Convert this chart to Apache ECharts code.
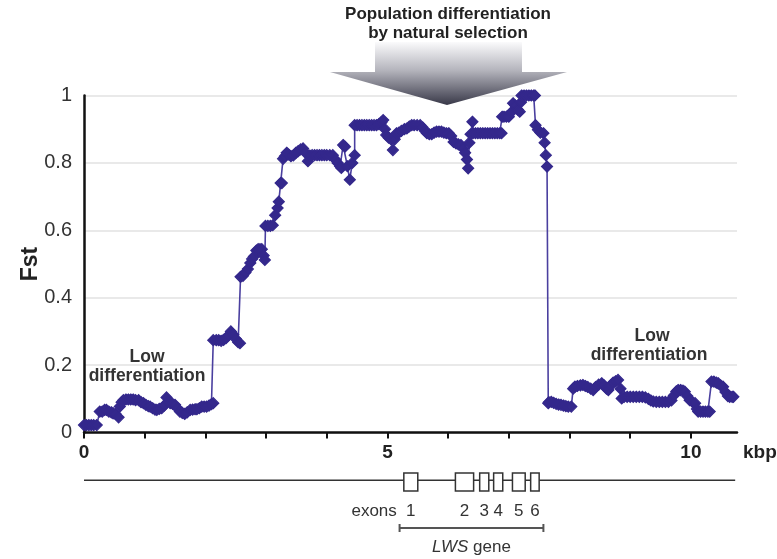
<!DOCTYPE html>
<html>
<head>
<meta charset="utf-8">
<script src="https://cdn.jsdelivr.net/npm/echarts@6/dist/echarts.min.js"></script>
<style>html,body{margin:0;padding:0;background:#fff;}#chart{width:777px;height:559px;}</style>
</head>
<body>
<div id="chart"></div>
<script>
// ---- Data ----
const fstKbp = [
0.00,0.04,0.08,0.12,0.16,0.21,0.26,0.30,0.34,0.37,0.41,0.45,0.48,0.52,0.57,0.59,0.62,0.65,0.69,0.73,
0.77,0.81,0.85,0.90,0.94,0.98,1.02,1.06,1.09,1.13,1.17,1.20,1.24,1.28,1.32,1.36,1.39,1.42,1.46,1.50,
1.54,1.58,1.62,1.66,1.70,1.75,1.79,1.83,1.86,1.90,1.94,1.98,2.02,2.06,2.10,2.13,2.13,2.18,2.22,2.26,
2.30,2.34,2.38,2.42,2.46,2.50,2.54,2.57,2.58,2.62,2.66,2.70,2.74,2.77,2.80,2.84,2.87,2.90,2.93,2.96,
2.98,2.99,3.03,3.07,3.11,3.15,3.19,3.21,3.24,3.26,3.28,3.31,3.34,3.37,3.41,3.45,3.49,3.53,3.57,3.61,
3.65,3.69,3.72,3.76,3.80,3.84,3.88,3.92,3.96,4.00,4.05,4.10,4.14,4.18,4.22,4.24,4.27,4.30,4.34,4.38,
4.42,4.46,4.46,4.50,4.54,4.58,4.62,4.66,4.70,4.74,4.78,4.82,4.86,4.90,4.93,4.96,4.98,5.02,5.06,5.09,
5.12,5.15,5.19,5.23,5.28,5.32,5.36,5.40,5.44,5.49,5.54,5.58,5.62,5.65,5.69,5.73,5.77,5.81,5.85,5.89,
5.93,5.97,6.01,6.05,6.09,6.13,6.17,6.21,6.25,6.28,6.31,6.33,6.35,6.37,6.40,6.41,6.45,6.49,6.53,6.57,
6.61,6.65,6.69,6.73,6.77,6.81,6.85,6.88,6.89,6.92,6.96,7.00,7.04,7.07,7.11,7.15,7.18,7.20,7.21,7.25,
7.29,7.33,7.37,7.41,7.43,7.44,7.48,7.52,7.57,7.59,7.61,7.63,7.65,7.66,7.70,7.74,7.78,7.82,7.86,7.90,
7.94,7.98,8.03,8.06,8.09,8.13,8.18,8.22,8.26,8.30,8.35,8.39,8.43,8.48,8.53,8.57,8.61,8.64,8.68,8.72,
8.76,8.80,8.84,8.86,8.90,8.95,9.00,9.05,9.10,9.15,9.20,9.25,9.30,9.34,9.38,9.43,9.48,9.53,9.58,9.63,
9.68,9.72,9.76,9.79,9.83,9.87,9.90,9.94,9.98,10.03,10.07,10.10,10.12,10.16,10.20,10.24,10.28,10.31,10.34,10.38,
10.42,10.45,10.49,10.53,10.57,10.61,10.64,10.68,10.70
];
const fstValue = [
0.022,0.022,0.022,0.022,0.022,0.022,0.062,0.062,0.067,0.067,0.062,0.060,0.057,0.055,0.045,0.077,0.090,0.096,0.098,0.098,
0.098,0.098,0.096,0.096,0.090,0.087,0.082,0.078,0.077,0.072,0.068,0.067,0.070,0.072,0.080,0.104,0.092,0.087,0.085,0.082,
0.072,0.062,0.058,0.055,0.060,0.067,0.068,0.069,0.069,0.072,0.077,0.077,0.077,0.080,0.084,0.087,0.274,0.274,0.274,0.272,
0.275,0.280,0.288,0.300,0.290,0.278,0.268,0.265,0.462,0.465,0.475,0.485,0.503,0.515,0.522,0.540,0.544,0.544,0.544,0.525,
0.512,0.613,0.613,0.613,0.615,0.645,0.666,0.685,0.740,0.740,0.812,0.820,0.830,0.825,0.820,0.822,0.830,0.835,0.840,0.843,
0.830,0.805,0.822,0.823,0.823,0.823,0.823,0.823,0.823,0.823,0.823,0.823,0.810,0.800,0.790,0.785,0.853,0.848,0.790,0.750,
0.800,0.823,0.912,0.912,0.912,0.912,0.912,0.912,0.912,0.912,0.912,0.912,0.915,0.920,0.927,0.900,0.883,0.875,0.870,0.838,
0.870,0.888,0.890,0.895,0.900,0.902,0.908,0.912,0.912,0.912,0.912,0.905,0.895,0.888,0.885,0.885,0.890,0.893,0.893,0.893,
0.890,0.888,0.888,0.880,0.862,0.858,0.855,0.853,0.843,0.830,0.810,0.784,0.860,0.885,0.922,0.888,0.888,0.888,0.888,0.888,
0.888,0.888,0.888,0.888,0.888,0.888,0.888,0.888,0.937,0.937,0.937,0.937,0.950,0.977,0.970,0.958,0.952,0.980,1.000,1.000,
1.000,1.000,1.000,1.000,1.000,0.912,0.898,0.890,0.888,0.860,0.823,0.789,0.087,0.090,0.091,0.088,0.085,0.083,0.082,0.080,
0.078,0.077,0.077,0.130,0.136,0.138,0.140,0.141,0.138,0.135,0.130,0.126,0.135,0.142,0.146,0.140,0.130,0.126,0.140,0.148,
0.152,0.156,0.130,0.101,0.106,0.106,0.106,0.106,0.106,0.106,0.106,0.104,0.100,0.095,0.092,0.091,0.091,0.091,0.091,0.091,
0.095,0.110,0.122,0.126,0.126,0.124,0.121,0.108,0.096,0.090,0.087,0.070,0.062,0.062,0.062,0.062,0.062,0.062,0.151,0.151,
0.148,0.146,0.140,0.136,0.120,0.108,0.106,0.106,0.106
];
const yTicks = [0, 0.2, 0.4, 0.6, 0.8, 1];
const xTicks = [0,1,2,3,4,5,6,7,8,9,10];
const xLabels = [0, 5, 10];
const exonStart = [5.27, 6.12, 6.52, 6.75, 7.06, 7.36];
const exonEnd   = [5.50, 6.42, 6.67, 6.90, 7.27, 7.50];
const exonNames = ['1', '2', '3', '4', '5', '6'];
const geneLine = [0, 10.73];
const lwsGene = [5.20, 7.57];

const FONT = '"Liberation Sans", Arial, Helvetica, sans-serif';
const chart = echarts.init(document.getElementById('chart'), null, {renderer: 'canvas'});

const fstData = fstKbp.map((x, i) => [x, fstValue[i]]);
const exonData = exonStart.map((s, i) => [s, exonEnd[i]]);

const option = {
  backgroundColor: '#ffffff',
  animation: false,
  textStyle: {fontFamily: FONT},
  grid: [
    {left: 84, right: 40, top: 95.5, bottom: 126.5, outerBoundsMode: 'none'},
    {left: 84, right: 40, top: 473, height: 18, outerBoundsMode: 'none'}
  ],
  xAxis: [
    {
      type: 'value', gridIndex: 0, min: 0, max: 10.76, interval: 1,
      axisLine: {show: true, onZero: false, lineStyle: {color: '#111', width: 2.5}},
      axisTick: {show: true, inside: false, length: 6, lineStyle: {color: '#111', width: 2}, customValues: xTicks},
      axisLabel: {show: true, margin: 11, fontSize: 19, fontWeight: 'bold', color: '#222', fontFamily: FONT, customValues: xLabels},
      splitLine: {show: false}
    },
    {type: 'value', gridIndex: 1, min: 0, max: 10.76, show: false}
  ],
  yAxis: [
    {
      type: 'value', gridIndex: 0, min: 0, max: 1, interval: 0.2,
      name: 'Fst', nameLocation: 'middle', nameGap: 42, nameRotate: 90, nameMoveOverlap: false,
      nameTextStyle: {fontSize: 23, fontWeight: 'bold', color: '#222', fontFamily: FONT},
      axisLine: {show: true, lineStyle: {color: '#111', width: 2.5}},
      axisTick: {show: false},
      axisLabel: {margin: 12, fontSize: 20, color: '#333', fontFamily: FONT},
      splitLine: {show: true, lineStyle: {color: '#e2e2e2', width: 1.5}}
    },
    {type: 'value', gridIndex: 1, min: 0, max: 1, show: false}
  ],
  series: [
    {
      type: 'line', xAxisIndex: 0, yAxisIndex: 0, data: fstData,
      symbol: 'diamond', symbolSize: [11, 11], showSymbol: true, showAllSymbol: true,
      itemStyle: {color: '#34288c', borderColor: '#34288c', borderWidth: 1.2},
      lineStyle: {color: '#4a3f9f', width: 1.6},
      z: 3
    },
    {
      type: 'line', xAxisIndex: 1, yAxisIndex: 1,
      data: [[geneLine[0], 0.6], [geneLine[1], 0.6]],
      symbol: 'none', lineStyle: {color: '#333', width: 1.5}, z: 1, silent: true
    },
    {
      type: 'custom', xAxisIndex: 1, yAxisIndex: 1, data: exonData, z: 4, silent: true,
      clip: false,
      renderItem: function (params, api) {
        const s = api.coord([api.value(0), 1]);
        const e = api.coord([api.value(1), 0]);
        const children = [
          {type: 'rect', shape: {x: s[0], y: s[1], width: e[0] - s[0], height: e[1] - s[1]},
           style: {fill: '#fff', stroke: '#333', lineWidth: 1.5}},
          {type: 'text', style: {text: exonNames[params.dataIndex], x: (s[0] + e[0]) / 2, y: e[1] + 20,
           align: 'center', verticalAlign: 'middle', font: '17px ' + FONT, fill: '#333'}}
        ];
        if (params.dataIndex === 0) {
          children.push({type: 'text', style: {text: 'exons', x: s[0] - 7, y: e[1] + 20,
            align: 'right', verticalAlign: 'middle', font: '17px ' + FONT, fill: '#333'}});
        }
        return {type: 'group', children: children};
      }
    },
    {
      type: 'custom', xAxisIndex: 1, yAxisIndex: 1, data: [lwsGene], z: 4, silent: true,
      clip: false,
      renderItem: function (params, api) {
        const a = api.coord([api.value(0), 0]);
        const b = api.coord([api.value(1), 0]);
        const y = a[1] + 37;
        return {type: 'group', children: [
          {type: 'line', shape: {x1: a[0], y1: y, x2: b[0], y2: y}, style: {stroke: '#555', lineWidth: 2}},
          {type: 'line', shape: {x1: a[0], y1: y - 4, x2: a[0], y2: y + 4}, style: {stroke: '#555', lineWidth: 2}},
          {type: 'line', shape: {x1: b[0], y1: y - 4, x2: b[0], y2: y + 4}, style: {stroke: '#555', lineWidth: 2}},
          {type: 'text', style: {text: '{i|LWS} gene', x: (a[0] + b[0]) / 2, y: y + 19, align: 'center', verticalAlign: 'middle',
            font: '17px ' + FONT, fill: '#333',
            rich: {i: {fontStyle: 'italic', fontSize: 17, fontFamily: FONT, fill: '#333'}}}}
        ]};
      }
    }
  ],
  graphic: [
    {
      type: 'polygon', z: 1, silent: true,
      shape: {points: [[375, 42], [522, 42], [522, 72], [567, 72], [447, 105], [330, 72], [375, 72]]},
      style: {fill: {type: 'linear', x: 0, y: 0, x2: 0, y2: 1, colorStops: [
        {offset: 0, color: '#fbfbfc'}, {offset: 0.45, color: '#b4b4bc'}, {offset: 1, color: '#383848'}]}}
    },
    {type: 'text', silent: true, style: {text: 'Population differentiation', x: 448, y: 14, align: 'center', verticalAlign: 'middle', font: 'bold 17px ' + FONT, fill: '#222'}},
    {type: 'text', silent: true, style: {text: 'by natural selection', x: 448, y: 33, align: 'center', verticalAlign: 'middle', font: 'bold 17px ' + FONT, fill: '#222'}},
    {type: 'text', silent: true, style: {text: 'Low', x: 147, y: 357, align: 'center', verticalAlign: 'middle', font: 'bold 17.5px ' + FONT, fill: '#333'}},
    {type: 'text', silent: true, style: {text: 'differentiation', x: 147, y: 376, align: 'center', verticalAlign: 'middle', font: 'bold 17.5px ' + FONT, fill: '#333'}},
    {type: 'text', silent: true, style: {text: 'Low', x: 652, y: 336, align: 'center', verticalAlign: 'middle', font: 'bold 17.5px ' + FONT, fill: '#333'}},
    {type: 'text', silent: true, style: {text: 'differentiation', x: 649, y: 355, align: 'center', verticalAlign: 'middle', font: 'bold 17.5px ' + FONT, fill: '#333'}},
    {type: 'text', silent: true, style: {text: 'kbp', x: 743, y: 453, align: 'left', verticalAlign: 'middle', font: 'bold 19px ' + FONT, fill: '#222'}}
  ]
};
chart.setOption(option);
</script>
</body>
</html>
